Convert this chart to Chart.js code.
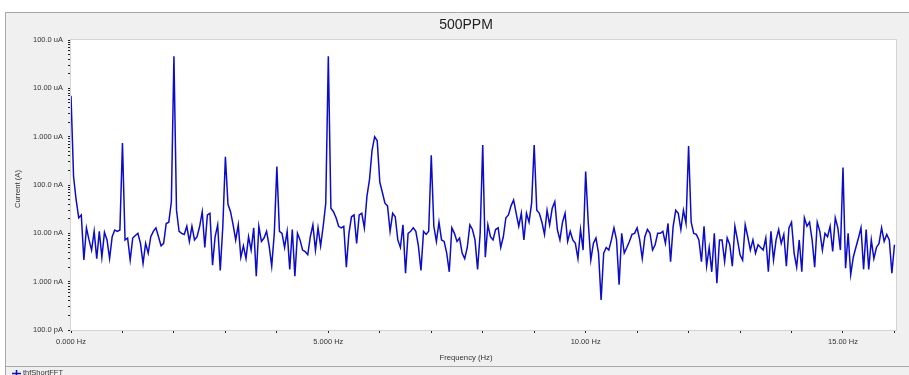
<!DOCTYPE html>
<html>
<head>
<meta charset="utf-8">
<script src="https://cdn.jsdelivr.net/npm/chart.js@4.4.1/dist/chart.umd.min.js"></script>
<style>
html,body{margin:0;padding:0;background:#fff;overflow:hidden}
#wrap{width:909px;height:375px;position:relative}
canvas{display:block}
</style>
</head>
<body>
<div id="wrap"><canvas id="c" width="909" height="375"></canvas></div>
<script>
// ---- data ----
const chartTitle = '500PPM';
const seriesName = 'thfShortFFT';
const xAxisTitle = 'Frequency (Hz)';
const yAxisTitle = 'Current (A)';

// FFT bin spacing (Hz)
const freqStepHz = 0.05;

// Current magnitude per bin, in nA (one row per 1 Hz)
const currentNA = [
  7000,148,49,21,24,2.8,13,7.3,4.5,11,3.0,11,3.2,10.5,7.3,3.0,8.5,11.7,11,11.7,
  740,7.3,8,2.8,8,9,10,6.2,2.4,6.2,3.9,8.5,11,13,8.5,5.5,6.2,16,17,45,
  46000,30,11,10,9.5,14,6.8,14,7.3,8.5,14,28,5.1,24,26,2.2,8.5,15,1.7,14,
  385,40,28,15,7.3,15,3.2,5.5,3,8.5,4.5,13,1.3,14,6.8,8,11,5.5,2.1,10,
  240,11,10,5.1,11,1.8,12,1.3,10,7.3,4.5,4.2,3.6,8.5,15,4.5,13,5.5,14,42,
  46000,33,28,21,14,13,14,2,10,22,24,6.2,24,26,13,58,130,530,1000,820,
  115,70,42,37,11,26,22,7.3,5.1,15,1.5,10,11,13,11,5.5,1.7,11,9.5,11,
  410,14,6.8,17,7.3,6.8,3.9,1.6,13,10,6.8,8,3.9,3,5.1,15,12,7.3,1.8,10,
  670,3.2,15,8.5,7.3,12,13,5.1,8.5,21,24,37,49,26,14,26,7.3,26,17,42,
  670,30,26,17,9.5,30,15,33,45,12,7.3,17,26,6.8,11,7.3,6.2,3,12,4.5,
  190,17,2.8,6.2,8,3.9,0.42,3.9,5.1,4.5,7.3,13,7.3,0.87,10,3.9,5.1,6.8,9.5,10,
  13,7.3,3,8.5,12,10,4.5,5.8,10,10,11,6.2,16,2.6,14,30,26,12,30,16,
  640,17,10,9.5,7.3,2.6,14,2.1,5.1,1.6,10,0.93,7.3,7.3,2.6,8,5.8,2.1,14,7.3,
  3.6,2.8,15,8.5,4.5,7.3,3.9,5.8,5.1,4.5,8,1.6,11,2.8,7.3,12,6.2,9.5,2.1,13,
  17,3.9,2,7.3,1.6,21,14,17,7.3,2,17,11,4.5,10,8.5,14,4.2,21,13,4.5,
  230,1.9,10,1.4,3.2,5.1,8,13,1.8,12,1.8,7.3,3,5.1,6.2,13,6.8,9.5,7.3,1.5,
  5.8
];

// axis tick labels
const xTickValues = [0, 5, 10, 15];
const xTickLabels = ['0.000 Hz', '5.000 Hz', '10.00 Hz', '15.00 Hz'];
const yTickValues = [0.1, 1, 10, 100, 1000, 10000, 100000];
const yTickLabels = ['100.0 pA', '1.000 nA', '10.00 nA', '100.0 nA', '1.000 uA', '10.00 uA', '100.0 uA'];
const xMin = 0, xMax = 16.03;
const yMin = 0.1, yMax = 100000;

// ---- build ----
const points = currentNA.map((v, i) => ({ x: +(i * freqStepHz).toFixed(2), y: v }));

const yMinorTicks = [];
for (let e = -1; e <= 4; e++) {
  for (let m = 1; m <= 9; m++) yMinorTicks.push(parseFloat((m * Math.pow(10, e)).toPrecision(6)));
}
yMinorTicks.push(yMax);

const FONT = '"Liberation Sans", Arial, sans-serif';
const PANEL_X = 5, PANEL_Y = 12, CENTER_X = 466;

const panelPlugin = {
  id: 'panel',
  beforeDraw(chart) {
    const ctx = chart.ctx, a = chart.chartArea;
    const W = chart.width, H = chart.height;
    ctx.save();
    ctx.fillStyle = '#ffffff';
    ctx.fillRect(0, 0, W, H);
    ctx.fillStyle = '#f0f0f0';
    ctx.fillRect(PANEL_X, PANEL_Y, W - PANEL_X, H - PANEL_Y);
    ctx.strokeStyle = '#a8a8a8';
    ctx.lineWidth = 1;
    ctx.beginPath();
    ctx.moveTo(PANEL_X + 0.5, H);
    ctx.lineTo(PANEL_X + 0.5, PANEL_Y + 0.5);
    ctx.lineTo(W, PANEL_Y + 0.5);
    ctx.stroke();
    // plot background
    ctx.fillStyle = '#ffffff';
    ctx.fillRect(a.left, a.top, a.right - a.left, a.bottom - a.top);
    // title
    ctx.fillStyle = '#222222';
    ctx.font = '14px ' + FONT;
    ctx.textAlign = 'center';
    ctx.textBaseline = 'middle';
    ctx.fillText(chartTitle, CENTER_X, 25);
    ctx.restore();
  },
  afterDraw(chart) {
    const ctx = chart.ctx, a = chart.chartArea;
    const W = chart.width;
    ctx.save();
    // plot frame
    ctx.strokeStyle = '#d4d4d4';
    ctx.lineWidth = 1;
    ctx.strokeRect(a.left - 0.5, a.top - 0.5, a.right - a.left + 1, a.bottom - a.top + 1);
    // axis titles
    ctx.fillStyle = '#333333';
    ctx.font = '7.7px ' + FONT;
    ctx.textAlign = 'center';
    ctx.textBaseline = 'middle';
    ctx.fillText(xAxisTitle, CENTER_X, 358);
    ctx.translate(18, 189);
    ctx.rotate(-Math.PI / 2);
    ctx.fillText(yAxisTitle, 0, 0);
    ctx.restore();
    ctx.save();
    // legend separator
    ctx.strokeStyle = '#a8a8a8';
    ctx.lineWidth = 1;
    ctx.beginPath();
    ctx.moveTo(PANEL_X, 366.5);
    ctx.lineTo(W, 366.5);
    ctx.stroke();
    // legend marker
    ctx.strokeStyle = '#0c0cc8';
    ctx.lineWidth = 1.5;
    ctx.beginPath();
    ctx.moveTo(12, 373.5); ctx.lineTo(21, 373.5);
    ctx.moveTo(16.5, 370); ctx.lineTo(16.5, 377);
    ctx.stroke();
    ctx.fillStyle = '#333333';
    ctx.font = '7.5px ' + FONT;
    ctx.textAlign = 'left';
    ctx.textBaseline = 'top';
    ctx.fillText(seriesName, 23, 369.5);
    ctx.restore();
  }
};

new Chart(document.getElementById('c'), {
  type: 'line',
  data: {
    datasets: [{
      label: seriesName,
      data: points,
      borderColor: '#0c0cc8',
      backgroundColor: '#0c0cc8',
      borderWidth: 1.5,
      pointRadius: 0,
      tension: 0,
      fill: false
    }]
  },
  options: {
    responsive: false,
    animation: false,
    devicePixelRatio: 1,
    layout: { padding: { left: 5, right: 13, top: 40, bottom: 0 } },
    plugins: { legend: { display: false }, title: { display: false }, tooltip: { enabled: false } },
    scales: {
      x: {
        type: 'linear',
        min: xMin,
        max: xMax,
        afterFit(s) { s.height = 45; },
        border: { display: false },
        grid: { drawOnChartArea: false, drawTicks: true, tickLength: 3, color: '#222222', lineWidth: 1 },
        ticks: {
          stepSize: 1,
          autoSkip: false,
          includeBounds: false,
          maxRotation: 0,
          minRotation: 0,
          padding: 4,
          color: '#333333',
          font: { size: 7.5, family: FONT },
          callback(v) {
            const i = xTickValues.indexOf(Math.round(v * 1000) / 1000);
            return i >= 0 ? xTickLabels[i] : '';
          }
        }
      },
      y: {
        type: 'logarithmic',
        min: yMin,
        max: yMax,
        afterFit(s) { s.width = 66; },
        afterBuildTicks(s) { s.ticks = yMinorTicks.map(v => ({ value: v })); },
        border: { display: false },
        grid: { drawOnChartArea: false, drawTicks: true, tickLength: 3, color: '#222222', lineWidth: 1 },
        ticks: {
          autoSkip: false,
          padding: 5,
          color: '#333333',
          font: { size: 7.5, family: FONT },
          callback(v) {
            const lv = Math.log10(v);
            for (let i = 0; i < yTickValues.length; i++) {
              if (Math.abs(lv - Math.log10(yTickValues[i])) < 1e-6) return yTickLabels[i];
            }
            return '';
          }
        }
      }
    }
  },
  plugins: [panelPlugin]
});
</script>
</body>
</html>
